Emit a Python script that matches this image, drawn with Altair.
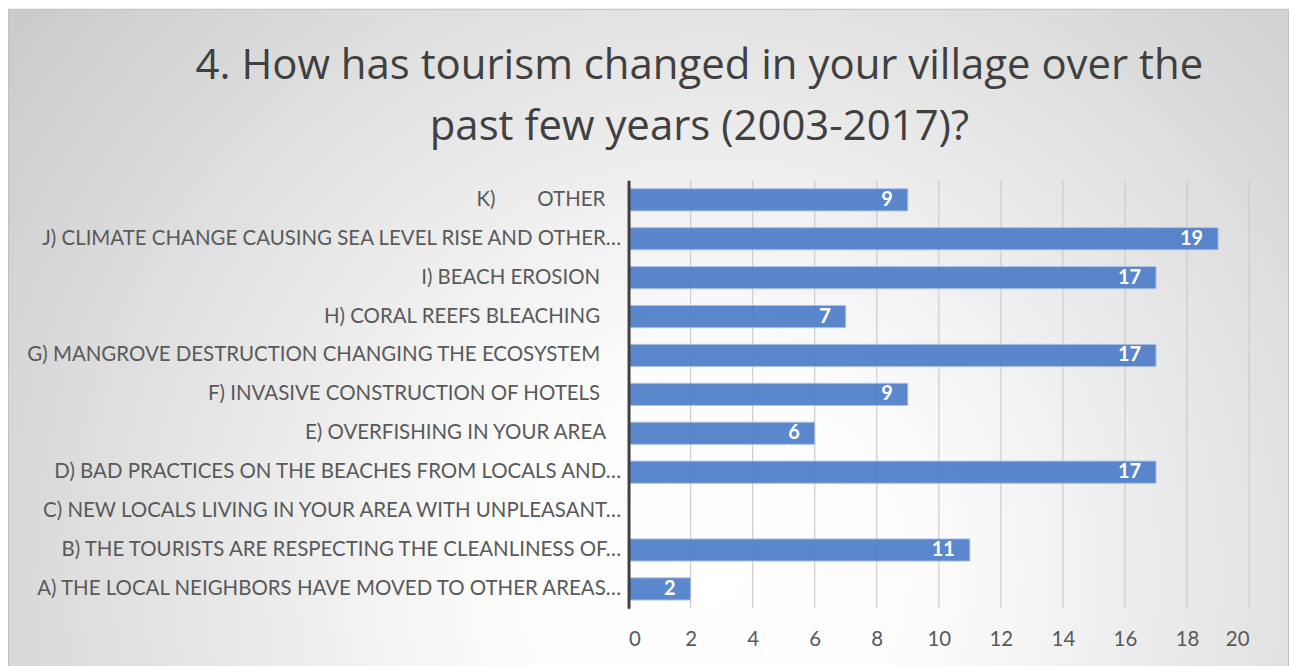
import altair as alt
import pandas as pd

NB = "\u00a0"
ZW = "\u200b"
categories = [
    "K)" + NB * 8 + "OTHER" + NB * 3 + ZW,
    "J) CLIMATE CHANGE CAUSING SEA LEVEL RISE AND OTHER…",
    "I) BEACH EROSION" + NB * 4 + ZW,
    "H) CORAL REEFS BLEACHING" + NB * 4 + ZW,
    "G) MANGROVE DESTRUCTION CHANGING THE ECOSYSTEM" + NB * 4 + ZW,
    "F) INVASIVE CONSTRUCTION OF HOTELS" + NB * 4 + ZW,
    "E) OVERFISHING IN YOUR AREA" + NB * 3 + ZW,
    "D) BAD PRACTICES ON THE BEACHES FROM LOCALS AND…",
    "C) NEW LOCALS LIVING IN YOUR AREA WITH UNPLEASANT…",
    "B) THE TOURISTS ARE RESPECTING THE CLEANLINESS OF…",
    "A) THE LOCAL NEIGHBORS HAVE MOVED TO OTHER AREAS…",
]
values = [9, 19, 17, 7, 17, 9, 6, 17, 0, 11, 2]
x_ticks = [0, 2, 4, 6, 8, 10, 12, 14, 16, 18, 20]
title_lines = [
    "4. How has tourism changed in your village over the",
    "past few years (2003-2017)?",
]

df = pd.DataFrame({"cat": categories, "val": values})
df["label"] = [str(v) if v else "" for v in values]
grid_df = pd.DataFrame({"t": x_ticks[1:]})

W, H = 622, 429
PL, PT, PR, PB = 622, 172, 40, 59

bg = alt.Chart(pd.DataFrame({"k": [0]})).mark_rect(
    fill={
        "gradient": "radial",
        "x1": 0.55, "y1": 0.68, "r1": 0,
        "x2": 0.55, "y2": 0.68, "r2": 0.78,
        "stops": [
            {"offset": 0, "color": "#ffffff"},
            {"offset": 0.22, "color": "#fcfcfc"},
            {"offset": 1, "color": "#c3c3c3"},
        ],
    },
    stroke="#c0c0c0",
    strokeWidth=1,
).encode(
    x=alt.value(-PL + 0.5),
    x2=alt.value(W + PR - 0.5),
    y=alt.value(-PT + 0.5),
    y2=alt.value(H + PB + 10),
)

xscale = alt.Scale(domain=[0, 20], nice=False)
xaxis = alt.Axis(
    title=None,
    values=x_ticks,
    grid=False,
    domain=False,
    ticks=False,
    labelPadding=21,
    labelFont="Lato",
    labelFontSize=20.5,
    labelColor="#595959",
    zindex=1,
)

grid = alt.Chart(grid_df).mark_rule(color="#cccccc", strokeWidth=1.2).encode(
    x=alt.X("t:Q", scale=xscale, axis=xaxis),
    y=alt.value(0),
    y2=alt.value(H),
)

base = alt.Chart(df)

yenc = alt.Y(
    "cat:N",
    sort=categories,
    scale=alt.Scale(paddingInner=0.43, paddingOuter=0.215),
    axis=alt.Axis(
        title=None,
        domain=True,
        domainColor="#404040",
        domainWidth=3,
        ticks=False,
        grid=False,
        labelPadding=8,
        labelLimit=0,
        labelFont="Lato",
        labelFontSize=20.5,
        labelColor="#595959",
        zindex=1,
    ),
)

bars = base.mark_bar(
    color="#4a7bc8", opacity=0.9, stroke="#a6bde3", strokeWidth=1
).encode(x=alt.X("val:Q", scale=xscale, axis=xaxis), y=yenc)

text = base.mark_text(
    align="right", baseline="middle", dx=-15, color="white",
    fontWeight="bold", fontSize=20, font="Lato",
).encode(
    x=alt.X("val:Q", scale=xscale, axis=xaxis),
    y=alt.Y("cat:N", sort=categories),
    text="label:N",
)

chart = alt.layer(bg, grid, bars, text).properties(
    width=W,
    height=H,
    padding={"left": PL, "top": PT, "right": PR, "bottom": PB},
    autosize=alt.AutoSizeParams(type="none"),
    title=alt.TitleParams(
        text=title_lines,
        font="Open Sans",
        fontSize=42,
        fontWeight="normal",
        color="#404040",
        anchor="middle",
        frame="group",
        dx=-240,
        offset=-141,
        lineHeight=62,
        zindex=1,
    ),
).configure_view(stroke=None).configure(background="white")

chart.save("out.html", embed_options={"renderer": "svg", "actions": False})
